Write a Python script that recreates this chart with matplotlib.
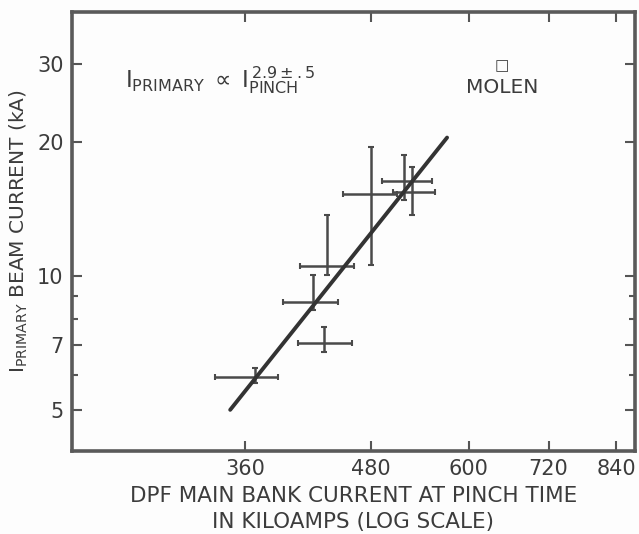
import numpy as np
import matplotlib
matplotlib.use('Agg')
import matplotlib.pyplot as plt
from matplotlib.ticker import FixedLocator, NullFormatter

# data (kA)
i_pinch = np.array([368, 431, 420, 434, 480, 518, 527])
i_pinch_lo = np.array([336, 406, 393, 408, 450, 492, 505])
i_pinch_hi = np.array([388, 460, 445, 462, 509, 552, 556])
i_prim = np.array([5.93, 7.07, 8.74, 10.53, 15.3, 16.4, 15.5])
i_prim_lo = np.array([5.74, 6.75, 8.38, 10.05, 10.6, 14.8, 13.7])
i_prim_hi = np.array([6.21, 7.68, 10.05, 13.7, 19.5, 18.7, 17.6])

# fitted power law line end points
fit_x = [348, 571]
fit_y = [5.0, 20.5]

x_ticks = [360, 480, 600, 720, 840]
y_ticks = [5, 7, 10, 20, 30]
y_minor = [6, 8, 9]

ink = '#3c3c3c'

fig = plt.figure(figsize=(6.39, 5.34), dpi=100)
fig.patch.set_facecolor('#fdfdfd')
ax = fig.add_axes([72/639, 1 - 450.5/534, 563/639, 438.5/534])
ax.set_facecolor('#fdfdfd')

ax.set_xscale('log')
ax.set_yscale('log')
ax.set_xlim(242.5, 877)
ax.set_ylim(4.05, 39.3)

ax.plot(fit_x, fit_y, color='#333333', lw=2.8, solid_capstyle='round', zorder=3)
ax.errorbar(i_pinch, i_prim,
            xerr=[i_pinch - i_pinch_lo, i_pinch_hi - i_pinch],
            yerr=[i_prim - i_prim_lo, i_prim_hi - i_prim],
            fmt='none', ecolor='#4a4a4a', elinewidth=1.8, capsize=2, capthick=1.5)

ax.xaxis.set_major_locator(FixedLocator(x_ticks))
ax.xaxis.set_minor_locator(FixedLocator([]))
ax.set_xticklabels([str(v) for v in x_ticks])
ax.xaxis.set_minor_formatter(NullFormatter())
ax.yaxis.set_major_locator(FixedLocator(y_ticks))
ax.yaxis.set_minor_locator(FixedLocator(y_minor))
ax.set_yticklabels([str(v) for v in y_ticks])
ax.yaxis.set_minor_formatter(NullFormatter())

ax.tick_params(which='both', direction='in', top=True, right=True,
               color='#555555', width=1.5, labelcolor=ink, labelsize=15, pad=6)
ax.tick_params(which='major', length=7)
ax.tick_params(which='minor', length=4)
for s in ax.spines.values():
    s.set_linewidth(2.6)
    s.set_color('#5a5a5a')

ax.set_xlabel('DPF MAIN BANK CURRENT AT PINCH TIME\nIN KILOAMPS (LOG SCALE)',
              fontsize=15.5, color=ink, labelpad=5, linespacing=1.4)
ax.set_ylabel(r'$\mathrm{I}_{\rm PRIMARY}$ BEAM CURRENT (kA)', fontsize=14.5,
              color=ink, labelpad=5)

ax.text(125/639, 1 - 80/534,
        r'$\mathrm{I}_{\rm PRIMARY}\;\propto\;\mathrm{I}_{\rm PINCH}^{\,2.9\pm.5}$',
        transform=fig.transFigure, fontsize=16.5, color=ink, va='center', ha='left')
ax.text(502/639, 1 - 66/534, '□', transform=fig.transFigure, fontsize=11,
        color=ink, ha='center', va='center')
ax.text(502/639, 1 - 87/534, 'MOLEN', transform=fig.transFigure, fontsize=14.5,
        color=ink, ha='center', va='center')

fig.savefig('out.png', dpi=100, facecolor=fig.get_facecolor())
